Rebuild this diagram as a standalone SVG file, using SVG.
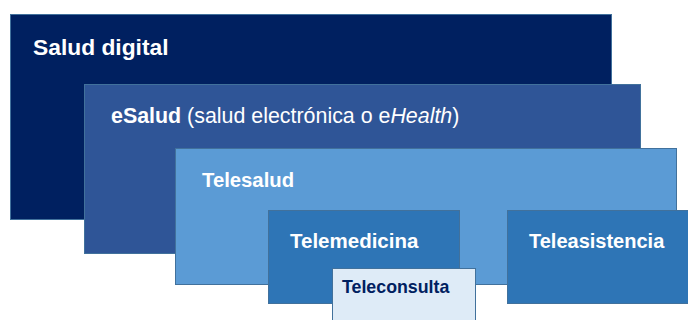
<svg xmlns="http://www.w3.org/2000/svg" width="688" height="320" viewBox="0 0 688 320">
<style>
.box{stroke:#41719c;stroke-width:1}
.t{font-family:"Liberation Sans",Arial,sans-serif;fill:#ffffff;font-weight:bold}
.r{font-weight:normal}
</style>
<rect width="688" height="320" fill="#ffffff"/>
<g id="salud-digital">
<rect class="box" x="10.5" y="14.5" width="601" height="205" fill="#002060"/>
<text class="t" x="33" y="55" font-size="22.8">Salud digital</text>
</g>
<g id="esalud">
<rect class="box" x="84.5" y="84.5" width="556" height="169" fill="#2f5597"/>
<text class="t" x="111" y="123" font-size="21.4">eSalud<tspan class="r"> (salud electrónica o e</tspan><tspan class="r" font-style="italic">Health</tspan><tspan class="r">)</tspan></text>
</g>
<g id="telesalud">
<rect class="box" x="175.5" y="148.5" width="501" height="136" fill="#5b9bd5"/>
<text class="t" x="202" y="187" font-size="20.3">Telesalud</text>
</g>
<g id="telemedicina">
<rect class="box" x="268.5" y="210.5" width="191" height="93" fill="#2e75b6"/>
<text class="t" x="290" y="248" font-size="20.5">Telemedicina</text>
</g>
<g id="teleasistencia">
<rect class="box" x="507.5" y="210.5" width="200" height="93" fill="#2e75b6"/>
<text class="t" x="529" y="248" font-size="20">Teleasistencia</text>
</g>
<g id="teleconsulta">
<rect class="box" x="332.5" y="268.5" width="143" height="70" fill="#deebf7"/>
<text class="t" x="342" y="293" font-size="17.8" style="fill:#002060">Teleconsulta</text>
</g>
</svg>
